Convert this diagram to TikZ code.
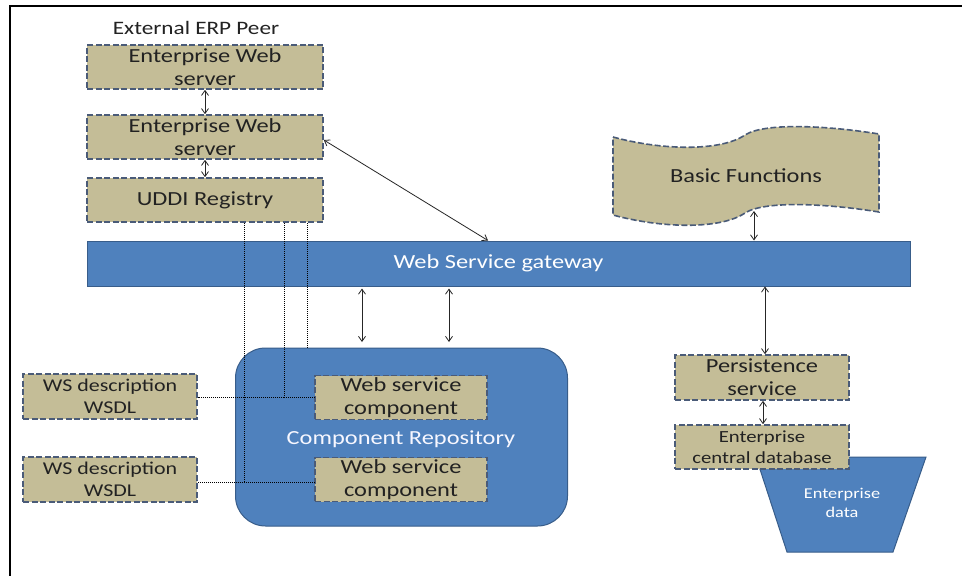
\documentclass[tikz,border=0pt]{standalone}
\usepackage{fontspec}
\setmainfont{Carlito}[FakeStretch=1.22]
\usetikzlibrary{arrows.meta}
\definecolor{tanfill}{HTML}{C4BD97}
\definecolor{tanedge}{HTML}{4A5B78}
\definecolor{bluefill}{HTML}{4F81BD}
\definecolor{blueedge}{HTML}{385D8A}
\definecolor{txt}{HTML}{222222}
\tikzset{
  tanbox/.style={draw=tanedge, fill=tanfill, line width=1.6pt, dash pattern=on 6pt off 2.5pt,
    inner sep=0pt, align=center, text=txt, font=\fontsize{20}{23}\selectfont},
  bluebox/.style={draw=blueedge, fill=bluefill, line width=1pt, inner sep=0pt, align=center, text=white},
  dbl/.style={{Straight Barb[length=5pt,width=7pt]}-{Straight Barb[length=5pt,width=7pt]}, line width=0.8pt, draw=black!85},
  dots/.style={densely dotted, line width=1pt, draw=black},
}
\begin{document}
\begin{tikzpicture}[x=1pt,y=-1pt]
\useasboundingbox (0,0) rectangle (962,576);
\fill[white] (0,0) rectangle (962,576);
% frame
\draw[line width=2pt] (10,576) -- (10,6) -- (962,6);

% title
\node[text=txt, font=\fontsize{19}{22}\selectfont] (title) at (196,28) {External ERP Peer};

% left stack
\node[tanbox, minimum width=236pt, minimum height=44pt] (ews1) at (205,67) {Enterprise Web\\server};
\node[tanbox, minimum width=236pt, minimum height=44pt] (ews2) at (205,137) {Enterprise Web\\server};
\node[tanbox, minimum width=236pt, minimum height=44pt] (uddi) at (205,200) {UDDI Registry};

% gateway
\node[bluebox, minimum width=823pt, minimum height=45pt, font=\fontsize{20}{23}\selectfont] (gw) at (498.5,263.5) {Web Service gateway};

% basic functions shape
\fill[tanfill] (613,137) .. controls (660,150) and (720,152) .. (745,135) .. controls (765,122) and (830,126) .. (879,134)
  -- (879,212) .. controls (830,204) and (765,200) .. (745,213) .. controls (720,230) and (660,228) .. (613,215) -- cycle;
\draw[draw=tanedge, line width=1.6pt, dash pattern=on 6pt off 2.5pt] (613,137) .. controls (660,150) and (720,152) .. (745,135) .. controls (765,122) and (830,126) .. (879,134)
  -- (879,212) .. controls (830,204) and (765,200) .. (745,213) .. controls (720,230) and (660,228) .. (613,215) -- cycle;
\node[text=txt, font=\fontsize{20}{23}\selectfont] (bf) at (746,176) {Basic Functions};
\coordinate (bfb) at (754,211);

% component repository
\node[bluebox, rounded corners=30pt, minimum width=332pt, minimum height=178pt] (repo) at (401.5,437) {};
\node[text=white!85!blue!20, font=\fontsize{20}{23}\selectfont] (repot) at (401,439) {Component Repository};
\node[tanbox, minimum width=172pt, minimum height=44pt] (wsc1) at (401,397.5) {Web service\\component};
\node[tanbox, minimum width=172pt, minimum height=44pt] (wsc2) at (401,479.5) {Web service\\component};

% WSDL boxes
\node[tanbox, minimum width=174pt, minimum height=45pt, font=\fontsize{18}{22}\selectfont] (wsdl1) at (110,396.5) {WS description\\WSDL};
\node[tanbox, minimum width=174pt, minimum height=45pt, font=\fontsize{18}{22}\selectfont] (wsdl2) at (110,479.5) {WS description\\WSDL};

% enterprise data trapezoid
\draw[fill=bluefill, draw=blueedge, line width=1pt] (756,457) -- (926,457) -- (893,552) -- (787,552) -- cycle;
\node[text=white, align=center, font=\fontsize{15}{19}\selectfont] (edata) at (842,503) {Enterprise\\data};

% persistence and database
\node[tanbox, minimum width=174pt, minimum height=45pt] (pers) at (762,377.5) {Persistence\\service};
\node[tanbox, minimum width=174pt, minimum height=44pt, font=\fontsize{17}{21}\selectfont] (db) at (762,447) {Enterprise\\central database};

% dotted connectors
\coordinate (d1) at (244,482);
\coordinate (d2) at (284,397);
\draw[dots] (uddi.south -| 244,0) -- (d1) -- (wsdl2.east |- d1);
\draw[dots] (d1) -- (wsc2.west |- d1);
\draw[dots] (uddi.south -| 284,0) -- (d2) -- (wsdl1.east |- d2);
\draw[dots] (d2) -- (wsc1.west |- d2);
\draw[dots] (uddi.south -| 307,0) -- (repo.north -| 307,0);

% arrows
\draw[dbl] (ews1.south) -- (ews2.north);
\draw[dbl] (ews2.south) -- (uddi.north);
\draw[dbl] (ews2.east |- 0,140) -- (gw.north -| 488,0);
\draw[dbl] (bfb) -- (gw.north -| bfb);
\draw[dbl] (gw.south -| 765,0) -- (pers.north -| 765,0);
\draw[dbl] (pers.south -| 763,0) -- (db.north -| 763,0);
\coordinate (r1) at (362,342);
\coordinate (r2) at (449,342);
\draw[dbl] (gw.south -| r1) ++(0,2) -- (r1);
\draw[dbl] (gw.south -| r2) ++(0,2) -- (r2);
\end{tikzpicture}
\end{document}
